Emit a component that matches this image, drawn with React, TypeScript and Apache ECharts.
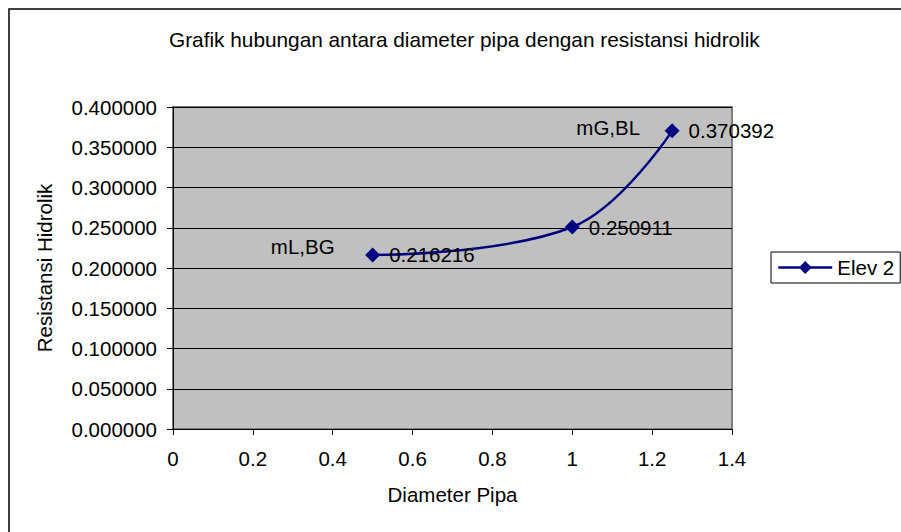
import React, { useEffect, useRef } from "react";
import * as echarts from "echarts";

const diameters = [0.5, 1, 1.25];
const resistances = [0.216216, 0.250911, 0.370392];
const pointNames = ["mL,BG", "", "mG,BL"];
const seriesName = "Elev 2";
const titleText = "Grafik hubungan antara diameter pipa dengan resistansi hidrolik";
const xAxisTitle = "Diameter Pipa";
const yAxisTitle = "Resistansi Hidrolik";

const FONT = "'Liberation Sans', Arial, sans-serif";
const FS = 20.5;

export default function App() {
  const ref = useRef<HTMLDivElement>(null);
  useEffect(() => {
    if (!ref.current) return;
    const chart = echarts.init(ref.current, null, { renderer: "svg" });
    const lineData = diameters.map((d, i) => [d, resistances[i]]);
    const nameOffsets: Record<string, number[]> = {
      "mL,BG": [-38, -8],
      "mG,BL": [-32, -3],
    };
    const nameData = diameters
      .map((d, i) => ({ name: pointNames[i], value: [d, resistances[i]] }))
      .filter((p) => p.name !== "")
      .map((p) => ({
        ...p,
        label: { offset: nameOffsets[p.name] || [0, 0] },
      }));
    chart.setOption({
      animation: false,
      textStyle: { fontFamily: FONT },
      title: {
        text: titleText,
        left: 164,
        top: 24,
        textStyle: { fontFamily: FONT, fontSize: 20.8, fontWeight: "normal", color: "#000" },
      },
      graphic: [
        {
          type: "rect",
          shape: { x: 9, y: 9, width: 1000, height: 1000 },
          style: { fill: "none", stroke: "#000", lineWidth: 1.5 },
          z: -10,
          silent: true,
        },
      ],
      legend: {
        data: [seriesName],
        left: 771,
        top: 252,
        orient: "vertical",
        borderColor: "#000",
        borderWidth: 1,
        padding: [5, 6, 5, 6],
        itemWidth: 54,
        itemHeight: 16,
        itemGap: 5,
        itemStyle: { color: "#000080" },
        lineStyle: { color: "#000080", width: 2.5 },
        textStyle: { fontFamily: FONT, fontSize: FS, color: "#000", padding: [0, 0, 0, 0] },
      },
      grid: {
        left: 173,
        top: 107,
        right: 169,
        bottom: 103,
        show: true,
        backgroundColor: "#c0c0c0",
        borderColor: "#808080",
        borderWidth: 2,
      },
      xAxis: {
        type: "value",
        min: 0,
        max: 1.4,
        interval: 0.2,
        name: xAxisTitle,
        nameLocation: "middle",
        nameGap: 55,
        nameTextStyle: { fontFamily: FONT, fontSize: FS, color: "#000" },
        axisLine: { show: true, onZero: false, lineStyle: { color: "#000", width: 1 } },
        axisTick: { show: true, length: 6, lineStyle: { color: "#000" } },
        axisLabel: {
          fontFamily: FONT,
          fontSize: FS,
          color: "#000",
          margin: 19,
          formatter: (v: number) => String(Math.round(v * 10) / 10),
        },
        splitLine: { show: false },
      },
      yAxis: {
        type: "value",
        min: 0,
        max: 0.4,
        interval: 0.05,
        name: yAxisTitle,
        nameLocation: "middle",
        nameRotate: 90,
        nameGap: 118,
        nameTextStyle: { fontFamily: FONT, fontSize: FS, color: "#000" },
        axisLine: { show: true, lineStyle: { color: "#000", width: 1 } },
        axisTick: { show: true, length: 6, lineStyle: { color: "#000" } },
        axisLabel: {
          fontFamily: FONT,
          fontSize: FS,
          color: "#000",
          margin: 16,
          formatter: (v: number) => v.toFixed(6),
        },
        splitLine: { show: true, lineStyle: { color: "#000", width: 1 } },
      },
      series: [
        {
          name: seriesName,
          type: "line",
          data: lineData,
          smooth: 0.4,
          symbol: "diamond",
          symbolSize: 15,
          itemStyle: { color: "#000080" },
          lineStyle: { color: "#000080", width: 2.5 },
          label: {
            show: true,
            position: "right",
            distance: 9,
            fontFamily: FONT,
            fontSize: FS,
            color: "#000",
            formatter: (p: any) => p.value[1].toFixed(6),
          },
          z: 3,
        },
        {
          name: "names",
          type: "scatter",
          data: nameData,
          symbolSize: 0,
          silent: true,
          itemStyle: { opacity: 1 },
          label: {
            show: true,
            position: "left",
            distance: 0,
            fontFamily: FONT,
            fontSize: FS,
            color: "#000",
            opacity: 1,
            formatter: (p: any) => p.name,
          },
          z: 4,
        },
      ],
    });
    return () => chart.dispose();
  }, []);
  return (
    <div
      ref={ref}
      style={{ position: "absolute", left: 0, top: 0, width: 901, height: 532, background: "#fff" }}
    />
  );
}
